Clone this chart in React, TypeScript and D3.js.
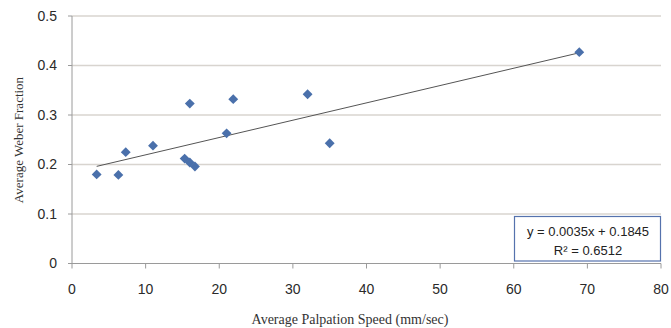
import React from "react";
import * as d3 from "d3";

const speeds = [3.35, 6.3, 7.3, 11.0, 15.3, 16.0, 16.0, 16.7, 21.0, 21.9, 32.0, 35.0, 68.9];
const weberFractions = [0.180, 0.179, 0.225, 0.238, 0.212, 0.323, 0.204, 0.196, 0.263, 0.332, 0.342, 0.243, 0.427];
const xTicks = [0, 10, 20, 30, 40, 50, 60, 70, 80];
const yTicks = [0, 0.1, 0.2, 0.3, 0.4, 0.5];
const slope = 0.0035;
const intercept = 0.1845;
const equationLines = ["y = 0.0035x + 0.1845", "R² = 0.6512"];

const W = 671;
const H = 328;
const left = 72;
const right = 661;
const top = 16;
const bottom = 263.5;

export default function App() {
  const x = d3.scaleLinear().domain([0, 80]).range([left, right]);
  const y = d3.scaleLinear().domain([0, 0.5]).range([bottom, top]);
  const xMin = d3.min(speeds) as number;
  const xMax = d3.max(speeds) as number;
  const trend = d3.line<number>().x((v) => x(v)).y((v) => y(slope * v + intercept));
  const diamond = d3.symbol().type(d3.symbolDiamond2).size(62)();
  const tickFont = "Liberation Sans, Arial, sans-serif";
  const serif = "Liberation Serif, Times New Roman, serif";

  return (
    <svg width={W} height={H} style={{ position: "absolute", left: 0, top: 0, background: "#fff" }}>
      {yTicks.filter((t) => t > 0).map((t) => (
        <line key={"g" + t} x1={left} x2={right} y1={y(t)} y2={y(t)} stroke="#d8d4cf" strokeWidth={1.3} />
      ))}
      <line x1={left} x2={left} y1={top} y2={bottom} stroke="#9a9a9a" strokeWidth={1} />
      <line x1={left} x2={right} y1={bottom} y2={bottom} stroke="#9a9a9a" strokeWidth={1} />
      {yTicks.map((t) => (
        <g key={"y" + t}>
          <line x1={left - 4} x2={left} y1={y(t)} y2={y(t)} stroke="#9a9a9a" />
          <text x={57} y={y(t)} dy="0.35em" textAnchor="end" fontFamily={tickFont} fontSize={14} fill="#2a2a2a">
            {t === 0 ? "0" : t.toFixed(1)}
          </text>
        </g>
      ))}
      {xTicks.map((t) => (
        <g key={"x" + t}>
          <line x1={x(t)} x2={x(t)} y1={bottom} y2={bottom + 5} stroke="#9a9a9a" />
          <text x={x(t)} y={289} dy="0.35em" textAnchor="middle" fontFamily={tickFont} fontSize={14} fill="#2a2a2a">
            {t}
          </text>
        </g>
      ))}
      <path d={trend([xMin, xMax]) || ""} stroke="#555" strokeWidth={1} fill="none" />
      {speeds.map((s, i) => (
        <path key={"p" + i} d={diamond || ""} transform={`translate(${x(s)},${y(weberFractions[i])})`} fill="#4a70ab" />
      ))}
      <rect x={514.5} y={216.5} width={146} height={44.5} fill="#fff" stroke="#5572ad" strokeWidth={1.2} />
      {equationLines.map((l, i) => (
        <text key={l} x={588} y={231 + i * 19} dy="0.35em" textAnchor="middle" fontFamily={tickFont} fontSize={13} fill="#222">
          {l}
        </text>
      ))}
      <text x={350} y={324} textAnchor="middle" fontFamily={serif} fontSize={14} fill="#333">
        Average Palpation Speed (mm/sec)
      </text>
      <text transform={`translate(23,140) rotate(-90)`} textAnchor="middle" fontFamily={serif} fontSize={13} fill="#333">
        Average Weber Fraction
      </text>
    </svg>
  );
}
